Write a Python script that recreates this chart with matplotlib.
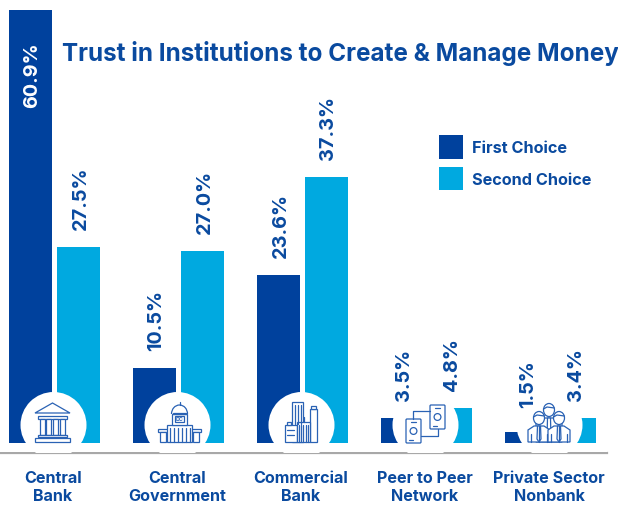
import numpy as np
import matplotlib
matplotlib.use("Agg")
import matplotlib.pyplot as plt
from matplotlib.patches import Ellipse, Rectangle, Circle, Arc, Polygon, FancyBboxPatch

categories = ["Central\nBank", "Central\nGovernment", "Commercial\nBank", "Peer to Peer\nNetwork", "Private Sector\nNonbank"]
first_choice = [60.9, 10.5, 23.6, 3.5, 1.5]
second_choice = [27.5, 27.0, 37.3, 4.8, 3.4]
series_names = ["First Choice", "Second Choice"]
title = "Trust in Institutions to Create & Manage Money"

DARK = "#00419D"
LIGHT = "#00A9E0"
TEXT = "#0A4A9F"
ICON = "#2A62B4"
W, H = 618, 506
plt.rcParams["font.family"] = ["Inter", "DejaVu Sans"]

PX_X = 124.0     # pixels per category
PX_Y = 7.11      # pixels per percentage point
BASE = 443.6
SPINE = 454.0
X0 = 53.0

fig = plt.figure(figsize=(W / 100, H / 100), dpi=100, facecolor="white")
ax = fig.add_axes([0, (H - SPINE) / H, 607 / W, SPINE / H])
ax.set_xlim(-X0 / PX_X, (607 - X0) / PX_X)
ax.set_ylim((BASE - SPINE) / PX_Y, BASE / PX_Y)
for s in ["top", "left", "right"]:
    ax.spines[s].set_visible(False)
ax.spines["bottom"].set_color("#A8A8A8")
ax.spines["bottom"].set_linewidth(1.6)
ax.set_yticks([])

x = np.arange(len(categories))
bw = 43 / PX_X
off1, off2 = -22.5 / PX_X, 25.5 / PX_X
b1 = ax.bar(x + off1, first_choice, bw, color=DARK, label=series_names[0], zorder=2)
b2 = ax.bar(x + off2, second_choice, bw, color=LIGHT, label=series_names[1], zorder=2)

ax.set_xticks(x, categories, fontsize=11.6, fontweight="bold", color=TEXT, linespacing=1.22)
ax.tick_params(axis="x", length=0, pad=12.5)

# white discs behind the icons
for xi in x:
    ax.add_patch(Ellipse((xi + 0.5 / PX_X, (BASE - 426) / PX_Y), 66 / PX_X, 66 / PX_Y,
                         fc="white", ec="none", zorder=3))
ax.add_patch(Rectangle((-X0 / PX_X, (BASE - SPINE + 1) / PX_Y), 607 / PX_X, (SPINE - 1 - BASE) / PX_Y,
                       fc="white", ec="none", zorder=3))

# value labels
for xs, vals in ((x + off1, first_choice), (x + off2, second_choice)):
    for xi, v in zip(xs, vals):
        if v > 50:
            ax.annotate(f"{v}%", (xi, v), xytext=(2 * 0.72, -32 * 0.72), textcoords="offset points",
                        rotation=90, ha="center", va="top", color="white",
                        fontsize=14.3, fontweight="bold", zorder=5)
        else:
            gap = 25 if v == 1.5 else 18
            ax.annotate(f"{v}%", (xi, v), xytext=(2 * 0.72, gap * 0.72), textcoords="offset points",
                        rotation=90, ha="center", va="bottom", color=TEXT,
                        fontsize=14.3, fontweight="bold", zorder=5)

leg = fig.legend(handles=[b1, b2], labels=series_names, loc="upper left",
                 bbox_to_anchor=(439 / W, 1 - 136 / H), frameon=False, borderpad=0, borderaxespad=0,
                 prop={"size": 11.7, "weight": "bold"}, handlelength=1.47, handleheight=1.87,
                 labelspacing=0.49, handletextpad=0.55, labelcolor=TEXT)

fig.text(62 / W, 1 - 54 / H, title, fontsize=17.45, fontweight="bold", color=TEXT, va="center", ha="left")

# decorative icons in pixel coordinates
ov = fig.add_axes([0, 0, 1, 1], facecolor="none")
ov.set_xlim(0, W)
ov.set_ylim(H, 0)
ov.axis("off")
lw = 0.9
kw = dict(fc="white", ec=ICON, lw=lw, zorder=6)

def rect(a, b, c, d, **k):
    ov.add_patch(Rectangle((a, b), c - a, d - b, **{**kw, **k}))

def line(xs, ys):
    ov.plot(xs, ys, color=ICON, lw=lw, zorder=7, solid_capstyle="round")

# bank
ov.add_patch(Polygon([(35, 414), (52.5, 404), (70, 414)], closed=True, **kw))
rect(38, 417, 67, 420)
for cx in (40, 46, 53, 60):
    rect(cx, 420, cx + 5, 436)
rect(38, 436, 67, 438)
rect(35, 439, 70, 443)

# capitol
rect(158, 430, 201, 433)
rect(160, 433, 166, 443)
rect(193, 433, 199, 443)
rect(167, 426, 192, 443)
for cx in np.arange(170, 192, 4):
    line([cx, cx], [429, 443])
ov.add_patch(Arc((179.5, 415), 16, 18, theta1=180, theta2=360, ec=ICON, lw=lw, zorder=7))
rect(172, 415, 187, 426)
rect(175, 417, 184, 423)
ov.text(179.5, 420, "DC", fontsize=3.8, ha="center", va="center", color=ICON, fontweight="bold", zorder=8)
line([179.5, 179.5], [403, 406])
rect(173, 414, 186, 415)

# city
rect(292, 403, 303, 443)
for cx in (295, 298, 301):
    line([cx, cx], [406, 425])
rect(310, 410, 317, 443)
rect(311, 407, 316, 410)
rect(285, 426, 297, 443)
rect(287, 423, 291, 426)
rect(297, 423, 310, 443)
for cx in np.arange(299, 310, 2.2):
    line([cx, cx], [426, 443])
for cy in (431, 436):
    line([287, 294], [cy, cy])
line([304, 304], [418, 423])

# phones
line([413, 413, 430], [420, 412, 412])
line([421, 438, 438], [437, 437, 430])
for (a, b) in ((406, 420), (430, 406)):
    ov.add_patch(FancyBboxPatch((a + 1, b + 1), 13, 22, boxstyle="round,pad=1", **kw))
    ov.add_patch(Circle((a + 7.5, b + 12), 3.4, fc="none", ec=ICON, lw=lw, zorder=7))
    line([a + 5, a + 10], [b + 3, b + 3])
    line([a + 3, a + 7], [b + 21, b + 21])

# people
for cx, cy, half in ((549, 411, 13), (539, 419, 11), (559, 419, 11)):
    bot = 443
    sy = cy + 8
    ov.add_patch(Polygon([(cx - half, bot), (cx - half, sy + 4), (cx - 5, sy), (cx + 5, sy),
                          (cx + half, sy + 4), (cx + half, bot)], closed=True, **kw))
    ov.add_patch(Polygon([(cx - 1.5, sy), (cx + 1.5, sy), (cx + 2, bot - 3), (cx, bot), (cx - 2, bot - 3)],
                         closed=True, **kw))
    line([cx - half + 3, cx - half + 3], [sy + 8, bot])
    line([cx + half - 3, cx + half - 3], [sy + 8, bot])
    ov.add_patch(Ellipse((cx, cy), 11, 13, **kw))
    line([cx - 5.5, cx - 2, cx + 5.5], [cy - 1, cy - 3, cy - 2])

fig.savefig("out.png", dpi=100, facecolor="white")
